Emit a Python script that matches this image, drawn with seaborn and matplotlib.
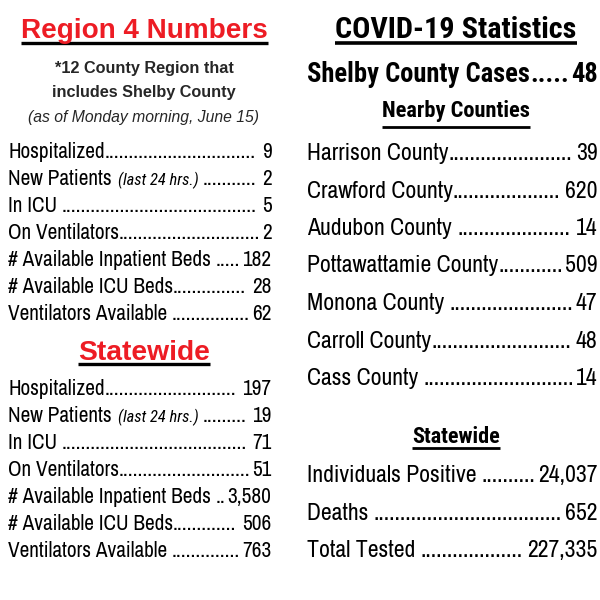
import matplotlib
matplotlib.use("Agg")
import matplotlib.pyplot as plt
import seaborn as sns

sns.set_theme(style="white")
plt.rcParams['font.family'] = ['Archivo Narrow', 'Liberation Sans', 'DejaVu Sans']

RED = "#ED1C24"

# ---- data ----
region_title = "Region 4 Numbers"
region_sub = ["*12 County Region that", "includes Shelby County"]
region_date = "(as of Monday morning, June 15)"
region_labels = ["Hospitalized", "New Patients", "In ICU ", "On Ventilators",
                 "# Available Inpatient Beds ", "# Available ICU Beds", "Ventilators Available "]
region_notes = ["", "(last 24 hrs.) ", "", "", "", "", ""]
region_values = ["9", "2", "5", "2", "182", "28", "62"]

state_title = "Statewide"
state_labels = region_labels
state_notes = region_notes
state_values = ["197", "19", "71", "51", "3,580", "506", "763"]

covid_title = "COVID-19 Statistics"
shelby_label = "Shelby County Cases"
shelby_value = "48"
nearby_title = "Nearby Counties"
county_labels = ["Harrison County", "Crawford County", "Audubon County ", "Pottawattamie County",
                 "Monona County ", "Carroll County", "Cass County "]
county_values = ["39", "620", "14", "509", "47", "48", "14"]
sw_title = "Statewide"
sw_labels = ["Individuals Positive ", "Deaths ", "Total Tested "]
sw_values = ["24,037", "652", "227,335"]

# ---- fonts ----
WIDE = ['Liberation Sans', 'DejaVu Sans']
NARROW = ['Archivo Narrow', 'Liberation Sans', 'DejaVu Sans']
NARROW_B = ['Roboto Condensed', 'Liberation Sans', 'DejaVu Sans']
NOTE = ['Roboto Condensed', 'Liberation Sans', 'DejaVu Sans']

# ---- figure ----
fig = plt.figure(figsize=(6, 6), dpi=100)
ax = fig.add_axes([0, 0, 1, 1])
ax.set_xlim(0, 600)
ax.set_ylim(600, 0)
ax.axis("off")
fig.canvas.draw()
renderer = fig.canvas.get_renderer()


def px_extent(t):
    bb = t.get_window_extent(renderer=renderer)
    inv = ax.transData.inverted()
    (x0, _), (x1, _) = inv.transform([(bb.x0, bb.y0), (bb.x1, bb.y1)])
    return x0, x1


def text_width(s, **kw):
    # width including trailing spaces: measure with a sentinel
    t1 = ax.text(0, -1000, s + "|", **kw)
    t2 = ax.text(0, -1000, "|", **kw)
    a1, b1 = px_extent(t1)
    a2, b2 = px_extent(t2)
    t1.remove()
    t2.remove()
    return (b1 - a1) - (b2 - a2)


def fit_size(s, target, **kw):
    t = ax.text(0, -1000, s, fontsize=10, **kw)
    a, b = px_extent(t)
    t.remove()
    return 10.0 * target / (b - a)


def leader_row(x_left, x_right, y, label, value, size, family, note="", note_size=12,
               weight="normal", color="black"):
    kw = dict(fontsize=size, va="baseline", color=color, weight=weight, family=family)
    ax.text(x_left, y, label, ha="left", **kw)
    end = x_left + text_width(label, fontsize=size, weight=weight, family=family)
    if note:
        nkw = dict(fontsize=note_size, style="italic", family=NOTE)
        ax.text(end + 6, y, note, ha="left", va="baseline", color=color, **nkw)
        end = end + 6 + text_width(note, **nkw)
    v = ax.text(x_right, y, value, ha="right", **kw)
    vstart, _ = px_extent(v)
    probe = ax.text(0, -1000, "." * 20, ha="left", **kw)
    a, b = px_extent(probe)
    probe.remove()
    dw = (b - a) / 20.0
    gap = vstart - end - 1.5
    nd = max(int(gap // dw), 2)
    ax.text(end, y, "." * nd, ha="left", **kw)


def title(xc, y, text, width, color, underline_y, lw, family):
    size = fit_size(text, width, weight="bold", family=family)
    t = ax.text(xc, y, text, fontsize=size, ha="center", va="baseline", weight="bold",
                color=color, family=family)
    x0, x1 = px_extent(t)
    ax.plot([x0, x1], [underline_y, underline_y], color="black", lw=lw, solid_capstyle="butt")


# ---- left column ----
LX, LR = 8, 271.5
title(144.5, 38, region_title, 247, RED, 43, 2.4, WIDE)
s = fit_size(region_sub[0], 178, weight="bold", family=WIDE)
ax.text(144.5, 73, region_sub[0], ha="center", va="baseline", fontsize=s, weight="bold", family=WIDE)
ax.text(144, 97, region_sub[1], ha="center", va="baseline", fontsize=s, weight="bold", family=WIDE)
s = fit_size(region_date, 232, style="italic", family=WIDE)
ax.text(144, 122, region_date, ha="center", va="baseline", fontsize=s, style="italic", family=WIDE)

left_size = 1.02 * fit_size("# Available Inpatient Beds", 200, family=NARROW)
note_size = fit_size("(last 24 hrs.)", 81, style="italic", family=NOTE)
for i, (lab, note, val) in enumerate(zip(region_labels, region_notes, region_values)):
    leader_row(LX, LR, 158 + i * 27, lab, val, left_size, NARROW, note=note, note_size=note_size)

title(144, 360, state_title, 132, RED, 364, 2.4, WIDE)
for i, (lab, note, val) in enumerate(zip(state_labels, state_notes, state_values)):
    leader_row(LX, LR, 395 + i * 27, lab, val, left_size, NARROW, note=note, note_size=note_size)

# ---- right column ----
RX, RR = 307, 597.5
title(456, 38, covid_title, 242, "black", 42.5, 2.6, NARROW_B)
shelby_size = fit_size(shelby_label, 223, weight="bold", family=NARROW_B)
leader_row(RX, RR, 82, shelby_label, shelby_value, shelby_size, NARROW_B, weight="bold")
title(456, 117, nearby_title, 148, "black", 126.5, 2.0, NARROW_B)

right_size = 1.04 * fit_size("Pottawattamie County", 185, family=NARROW)
for i, (lab, val) in enumerate(zip(county_labels, county_values)):
    leader_row(RX, RR, 160 + i * 37.5, lab, val, right_size, NARROW)

title(456, 443, sw_title, 88, "black", 447.5, 2.0, NARROW_B)
for i, (lab, val) in enumerate(zip(sw_labels, sw_values)):
    leader_row(RX, RR, 482 + i * 37.5, lab, val, right_size, NARROW)

fig.savefig("out.png", dpi=100, facecolor="white")
